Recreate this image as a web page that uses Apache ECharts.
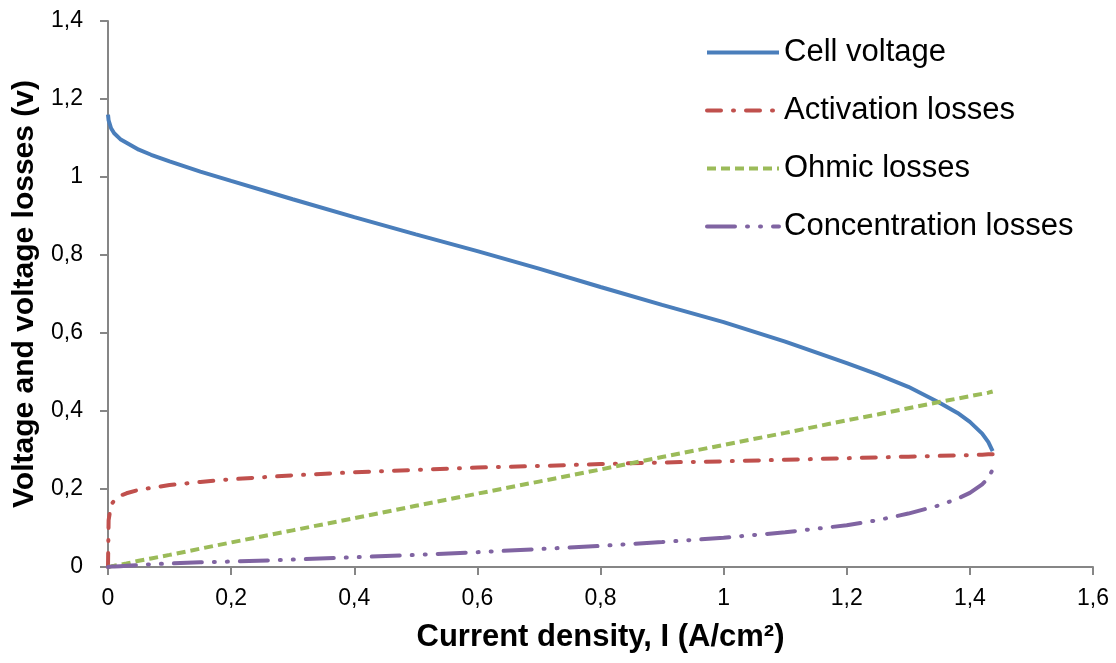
<!DOCTYPE html>
<html>
<head>
<meta charset="utf-8">
<script src="https://cdn.jsdelivr.net/npm/echarts@6/dist/echarts.min.js"></script>
<style>
html, body { margin: 0; padding: 0; background: #fff; }
#main { width: 1116px; height: 663px; }
</style>
</head>
<body>
<div id="main"></div>
<script>
// current density (A/cm2)
var currentDensity = [0, 0.001, 0.005, 0.01, 0.02, 0.03, 0.05, 0.07, 0.1, 0.15, 0.2, 0.3, 0.4, 0.5, 0.6, 0.7, 0.8, 0.9, 1.0, 1.1, 1.2, 1.25, 1.3, 1.35, 1.38, 1.4, 1.42, 1.43, 1.437];
var cellVoltage = [1.16, 1.145, 1.125, 1.112, 1.097, 1.088, 1.07, 1.057, 1.04, 1.014, 0.99, 0.943, 0.897, 0.853, 0.81, 0.765, 0.718, 0.672, 0.628, 0.578, 0.523, 0.494, 0.462, 0.422, 0.395, 0.372, 0.342, 0.32, 0.297];
var activationLosses = [0, 0.12, 0.16, 0.17, 0.183, 0.189, 0.198, 0.203, 0.21, 0.218, 0.225, 0.235, 0.243, 0.249, 0.255, 0.259, 0.264, 0.268, 0.271, 0.275, 0.279, 0.281, 0.283, 0.285, 0.286, 0.287, 0.288, 0.289, 0.289];
var ohmicLosses = [0, 0.0003, 0.0016, 0.003, 0.006, 0.009, 0.016, 0.022, 0.031, 0.047, 0.063, 0.094, 0.125, 0.157, 0.188, 0.219, 0.25, 0.282, 0.313, 0.344, 0.376, 0.391, 0.407, 0.423, 0.432, 0.438, 0.444, 0.447, 0.45];
var concLosses = [0, 0, 0.001, 0.001, 0.002, 0.003, 0.005, 0.007, 0.009, 0.012, 0.014, 0.019, 0.025, 0.031, 0.038, 0.046, 0.054, 0.064, 0.075, 0.089, 0.107, 0.12, 0.137, 0.158, 0.175, 0.19, 0.212, 0.228, 0.25];
var seriesNames = ['Cell voltage', 'Activation losses', 'Ohmic losses', 'Concentration losses'];

function pairs(ys) {
	var out = [];
	for (var i = 0; i < currentDensity.length; i++) {
		out.push([currentDensity[i], ys[i]]);
	}
	return out;
}

function comma(v) {
	return String(+v.toFixed(1)).replace('.', ',');
}

var myChart = echarts.init(document.getElementById('main'));

function axisBase(extra, labelMargin, nameSize) {
	var base = {
		type: 'value',
		min: 0,
		interval: 0.2,
		nameLocation: 'middle',
		axisLine: { show: true, lineStyle: { color: '#868686', width: 2 } },
		axisTick: { show: true, inside: false, length: 8, lineStyle: { color: '#868686', width: 2 } },
		splitLine: { show: false },
		axisLabel: { color: '#000', fontSize: 23, margin: labelMargin, fontFamily: 'Liberation Sans, Arial', formatter: comma },
		nameTextStyle: { color: '#000', fontSize: nameSize, fontWeight: 'bold', fontFamily: 'Liberation Sans, Arial' }
	};
	for (var k in extra) base[k] = extra[k];
	return base;
}

var option = {
	animation: false,
	grid: { left: 108, right: 23, top: 21, bottom: 96 },
	legend: {
		orient: 'vertical',
		left: 700,
		top: 32,
		itemWidth: 72,
		itemHeight: 4,
		itemGap: 27,
		itemStyle: { opacity: 0 },
		lineStyle: { width: 4 },
		textStyle: { color: '#000', fontSize: 31, fontFamily: 'Liberation Sans, Arial' },
		data: seriesNames
	},
	xAxis: axisBase({ max: 1.6, name: 'Current density, I (A/cm²)', nameGap: 55 }, 20, 31),
	yAxis: axisBase({ max: 1.4, name: 'Voltage and voltage losses (v)', nameGap: 64 }, 25, 30),
	series: [
		{
			name: seriesNames[0], type: 'line', showSymbol: false, symbol: 'none',
			lineStyle: { color: '#4a7ebb', width: 4 },
			itemStyle: { color: '#4a7ebb' },
			data: pairs(cellVoltage)
		},
		{
			name: seriesNames[1], type: 'line', showSymbol: false, symbol: 'none',
			lineStyle: { color: '#c0504d', width: 4, type: [14, 12, 1, 12], cap: 'round' },
			itemStyle: { color: '#c0504d' },
			data: pairs(activationLosses)
		},
		{
			name: seriesNames[2], type: 'line', showSymbol: false, symbol: 'none',
			lineStyle: { color: '#9bbb59', width: 4, type: [9, 5] },
			itemStyle: { color: '#9bbb59' },
			data: pairs(ohmicLosses)
		},
		{
			name: seriesNames[3], type: 'line', showSymbol: false, symbol: 'none',
			lineStyle: { color: '#8064a2', width: 4, type: [28, 12, 1, 12, 1, 12], cap: 'round' },
			itemStyle: { color: '#8064a2' },
			data: pairs(concLosses)
		}
	]
};

myChart.setOption(option);
</script>
</body>
</html>
